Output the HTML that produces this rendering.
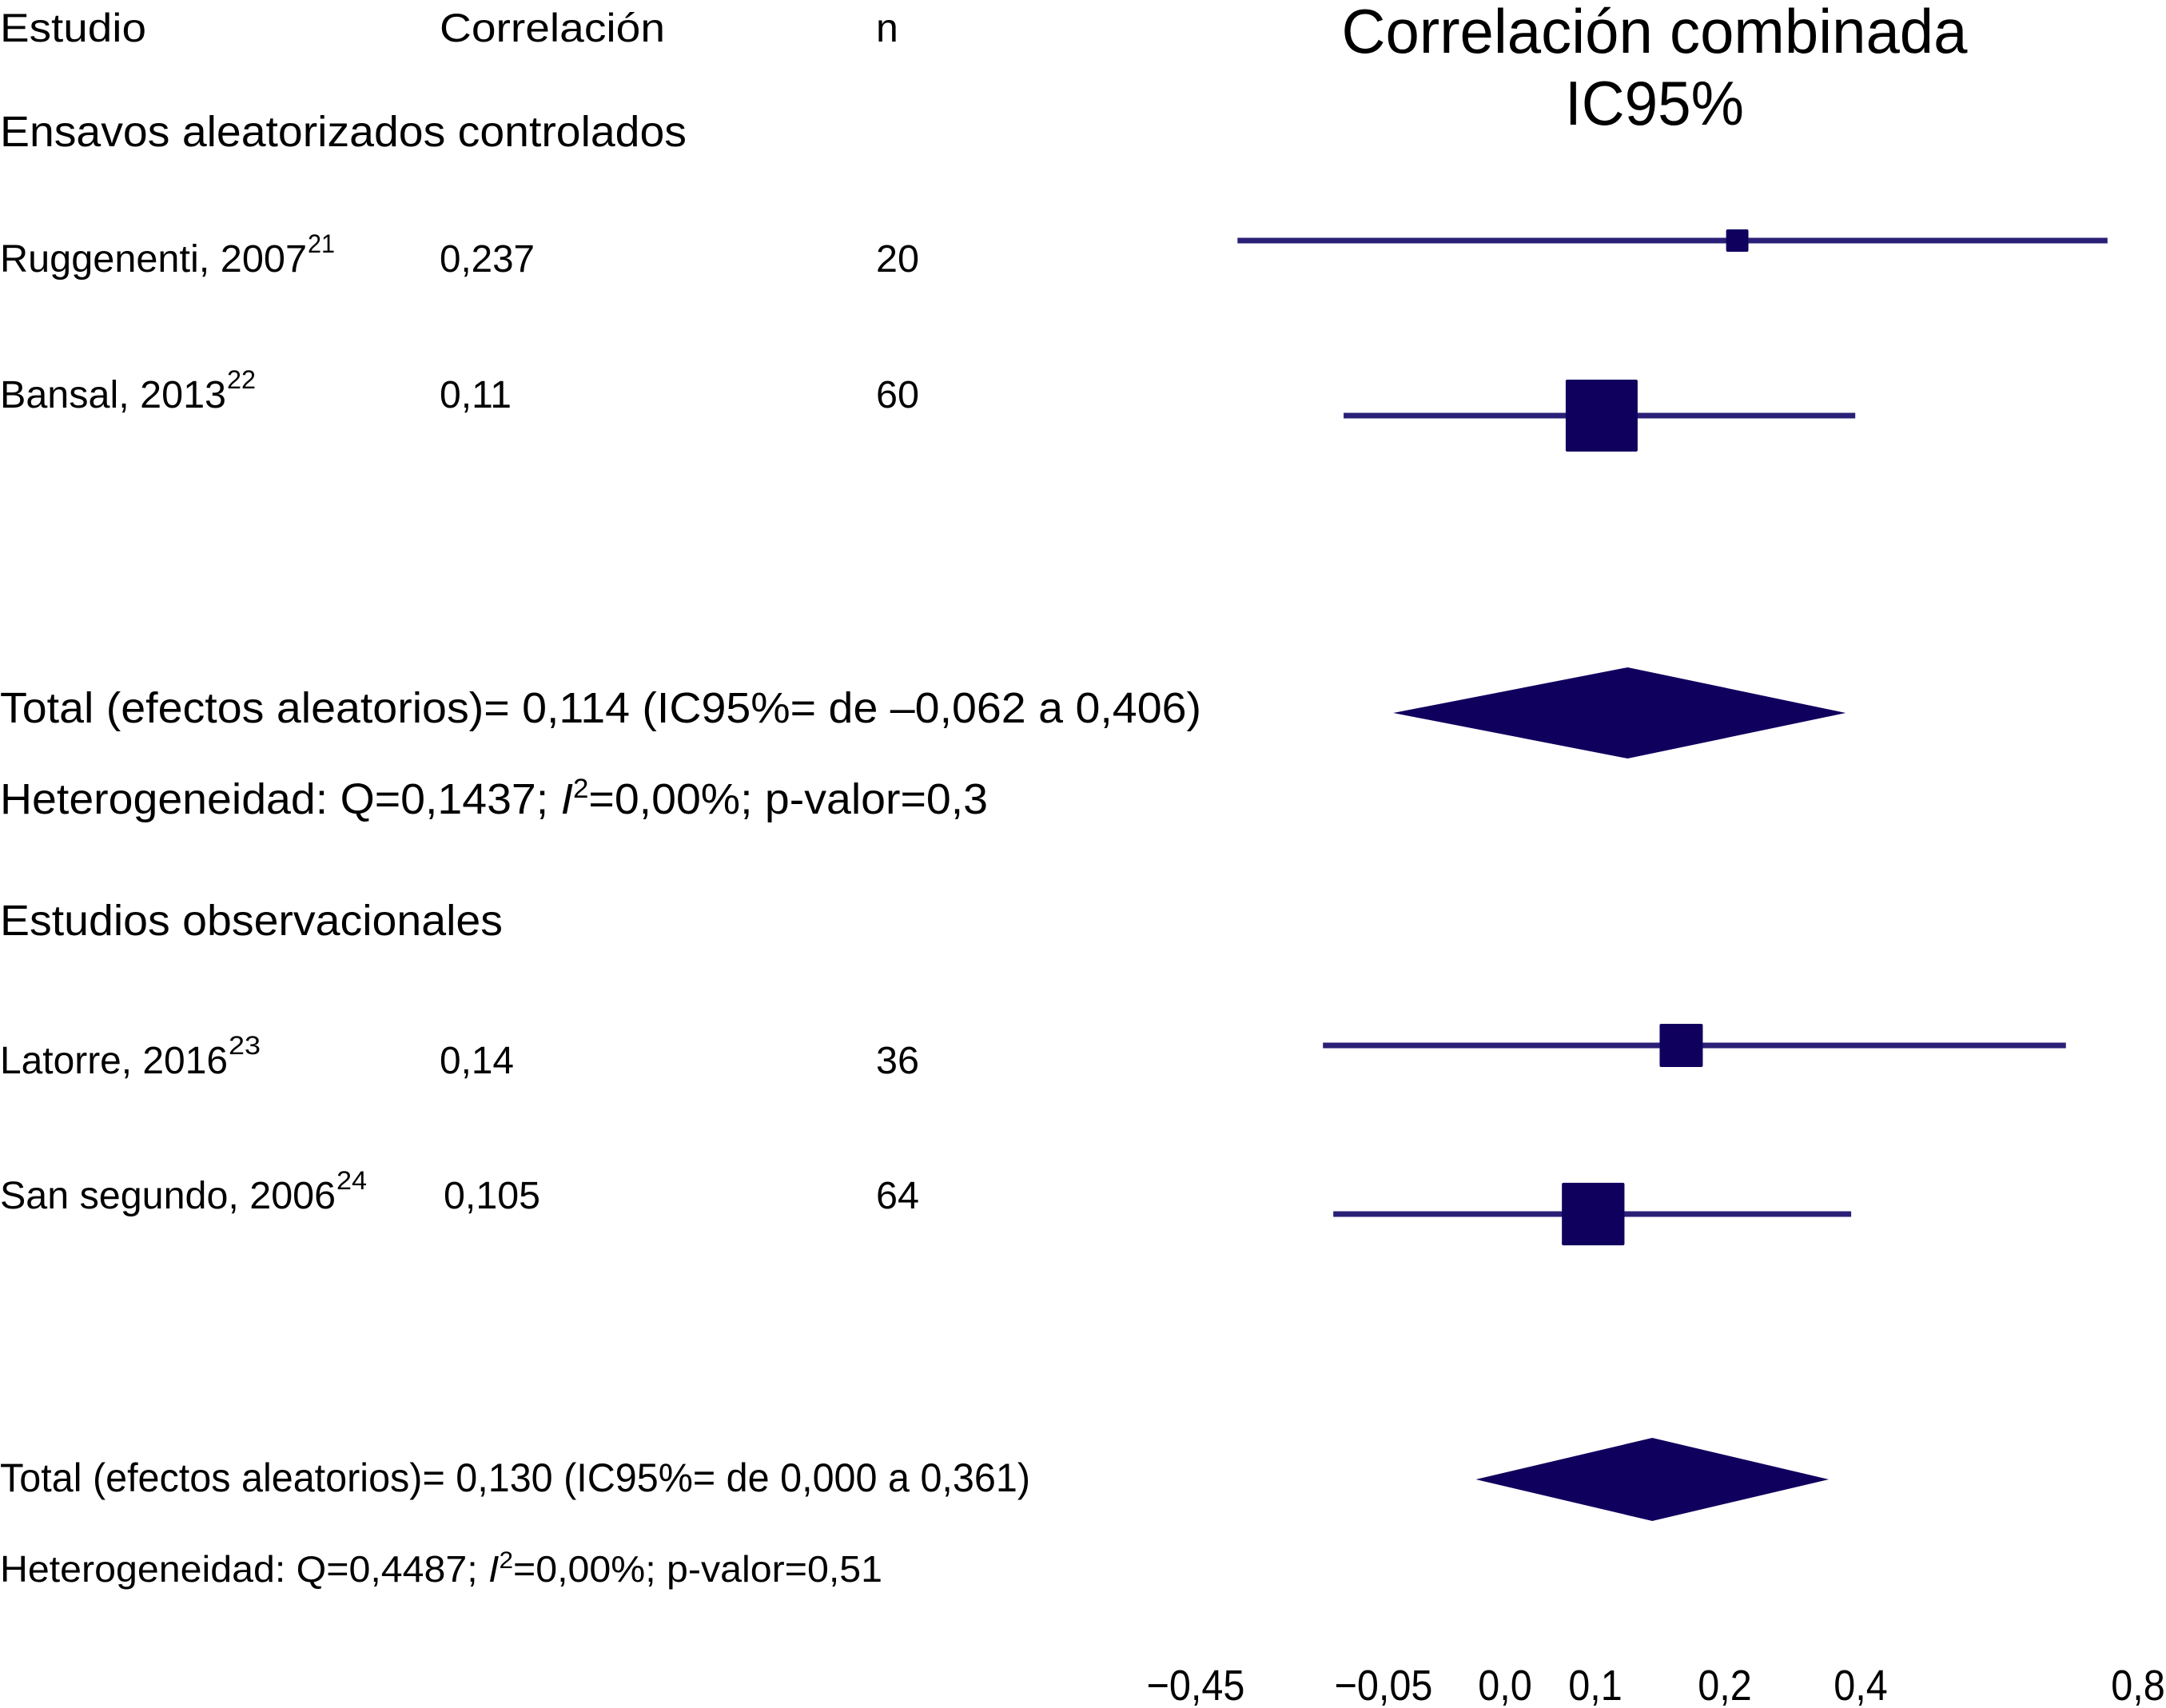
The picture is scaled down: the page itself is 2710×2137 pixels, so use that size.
<!DOCTYPE html>
<html><head><meta charset="utf-8"><style>
html,body{margin:0;padding:0;background:#fff;}
svg{display:block;}
text{font-family:"Liberation Sans",Arial,sans-serif;fill:#000;}
</style></head>
<body>
<svg id="chart" width="2710" height="2137" viewBox="0 0 2710 2137">
<g id="labels">
<text x="0" y="52" font-size="50" textLength="183" lengthAdjust="spacingAndGlyphs">Estudio</text>
<text x="550" y="52" font-size="50" textLength="282" lengthAdjust="spacingAndGlyphs">Correlación</text>
<text x="1096" y="52" font-size="50">n</text>
<text x="2070" y="66" font-size="78" text-anchor="middle" textLength="783" lengthAdjust="spacingAndGlyphs">Correlación combinada</text>
<text x="2070" y="156" font-size="78" text-anchor="middle" textLength="224" lengthAdjust="spacingAndGlyphs">IC95%</text>
<text x="0" y="183" font-size="54" textLength="859" lengthAdjust="spacingAndGlyphs">Ensavos aleatorizados controlados</text>

<text x="0" y="340" font-size="48" textLength="384" lengthAdjust="spacingAndGlyphs">Ruggenenti, 2007</text>
<text x="385" y="316" font-size="32" textLength="34" lengthAdjust="spacingAndGlyphs">21</text>
<text x="550" y="340" font-size="48" textLength="119" lengthAdjust="spacingAndGlyphs">0,237</text>
<text x="1096" y="340" font-size="48" textLength="54" lengthAdjust="spacingAndGlyphs">20</text>

<text x="0" y="510" font-size="48" textLength="283" lengthAdjust="spacingAndGlyphs">Bansal, 2013</text>
<text x="284" y="486" font-size="32" textLength="36" lengthAdjust="spacingAndGlyphs">22</text>
<text x="550" y="510" font-size="48" textLength="90" lengthAdjust="spacingAndGlyphs">0,11</text>
<text x="1096" y="510" font-size="48" textLength="54" lengthAdjust="spacingAndGlyphs">60</text>

<text x="0" y="904" font-size="54" textLength="1503" lengthAdjust="spacingAndGlyphs">Total (efectos aleatorios)= 0,114 (IC95%= de –0,062 a 0,406)</text>
<text x="0" y="1018" font-size="54" textLength="1236" lengthAdjust="spacingAndGlyphs">Heterogeneidad: Q=0,1437; <tspan font-style="italic">I</tspan><tspan font-size="34" dy="-20">2</tspan><tspan dy="20">=0,00%; p-valor=0,3</tspan></text>
<text x="0" y="1170" font-size="54" textLength="629" lengthAdjust="spacingAndGlyphs">Estudios observacionales</text>

<text x="0" y="1343" font-size="48" textLength="285" lengthAdjust="spacingAndGlyphs">Latorre, 2016</text>
<text x="286" y="1319" font-size="32" textLength="40" lengthAdjust="spacingAndGlyphs">23</text>
<text x="550" y="1343" font-size="48" textLength="93" lengthAdjust="spacingAndGlyphs">0,14</text>
<text x="1096" y="1343" font-size="48" textLength="54" lengthAdjust="spacingAndGlyphs">36</text>

<text x="0" y="1512" font-size="48" textLength="420" lengthAdjust="spacingAndGlyphs">San segundo, 2006</text>
<text x="421" y="1488" font-size="32" textLength="38" lengthAdjust="spacingAndGlyphs">24</text>
<text x="555" y="1512" font-size="48" textLength="121" lengthAdjust="spacingAndGlyphs">0,105</text>
<text x="1096" y="1512" font-size="48" textLength="54" lengthAdjust="spacingAndGlyphs">64</text>

<text x="0" y="1866" font-size="50" textLength="1289" lengthAdjust="spacingAndGlyphs">Total (efectos aleatorios)= 0,130 (IC95%= de 0,000 a 0,361)</text>
<text x="0" y="1979" font-size="46" textLength="1104" lengthAdjust="spacingAndGlyphs">Heterogeneidad: Q=0,4487; <tspan font-style="italic">I</tspan><tspan font-size="30" dy="-17">2</tspan><tspan dy="17">=0,00%; p-valor=0,51</tspan></text>
</g>
<g id="plot"></g>
<g id="axis"></g>
</svg>
<script>
// axis ticks (nonlinear scale as in the original)
const tickValues = [-0.45, -0.05, 0.0, 0.1, 0.2, 0.4, 0.8];
const tickLabels = ["\u22120,45", "\u22120,05", "0,0", "0,1", "0,2", "0,4", "0,8"];
// studies
const studyNames = ["Ruggenenti", "Bansal", "Latorre", "San segundo"];
const studyPoint = [0.219, 0.106, 0.167, 0.099];
const studyLow = [-0.361, -0.135, -0.179, -0.157];
const studyHigh = [0.756, 0.392, 0.696, 0.386];
const studyWeight = [0.31, 1.0, 0.6, 0.87];
// pooled estimates
const pooledNames = ["total-rct", "total-observational"];
const pooledPoint = [0.125, 0.144];
const pooledLow = [-0.046, -0.012];
const pooledHigh = [0.378, 0.353];

const tickPx = [1496, 1731, 1883, 1996, 2158, 2328, 2675];
function xScale(v) {
  let i = 0;
  if (v <= tickValues[0]) i = 0;
  else if (v >= tickValues[tickValues.length - 1]) i = tickValues.length - 2;
  else { while (!(v >= tickValues[i] && v <= tickValues[i + 1])) i++; }
  const t = (v - tickValues[i]) / (tickValues[i + 1] - tickValues[i]);
  return tickPx[i] + t * (tickPx[i + 1] - tickPx[i]);
}
const studyRowY = [301, 520, 1308, 1519];
const pooledRowY = [892, 1851];
const pooledH = [114, 104];
const NS = "http://www.w3.org/2000/svg";
const plot = document.getElementById('plot');
const axis = document.getElementById('axis');
const color = "#10005e";
for (let i = 0; i < studyNames.length; i++) {
  const y = studyRowY[i];
  const ln = document.createElementNS(NS, 'line');
  
  
  ln.setAttribute('x1', xScale(studyLow[i]));
  ln.setAttribute('x2', xScale(studyHigh[i]));
  ln.setAttribute('y1', y); ln.setAttribute('y2', y);
  ln.setAttribute('stroke', '#2b2077'); ln.setAttribute('stroke-width', 7);
  plot.appendChild(ln);
  const s = 90 * studyWeight[i];
  const r = document.createElementNS(NS, 'rect');
  
  
  r.setAttribute('x', xScale(studyPoint[i]) - s * 0.52);
  r.setAttribute('y', y - s / 2);
  r.setAttribute('width', s); r.setAttribute('height', s);
  r.setAttribute('rx', 2);
  r.setAttribute('fill', color);
  plot.appendChild(r);
}
for (let i = 0; i < pooledNames.length; i++) {
  const y = pooledRowY[i], h = pooledH[i] / 2;
  const p = document.createElementNS(NS, 'polygon');
  
  
  const xl = xScale(pooledLow[i]), xc = xScale(pooledPoint[i]), xh = xScale(pooledHigh[i]);
  p.setAttribute('points', `${xl},${y} ${xc},${y - h} ${xh},${y} ${xc},${y + h}`);
  p.setAttribute('fill', color);
  plot.appendChild(p);
}
for (let i = 0; i < tickValues.length; i++) {
  const t = document.createElementNS(NS, 'text');
  
  
  const x = xScale(tickValues[i]);
  t.setAttribute('x', x);
  t.setAttribute('y', 2127);
  t.setAttribute('font-size', 54);
  t.setAttribute('text-anchor', 'middle');
  t.setAttribute('transform', `translate(${x},0) scale(0.9,1) translate(${-x},0)`);
  t.textContent = tickLabels[i];
  axis.appendChild(t);
}
</script>
</body></html>
